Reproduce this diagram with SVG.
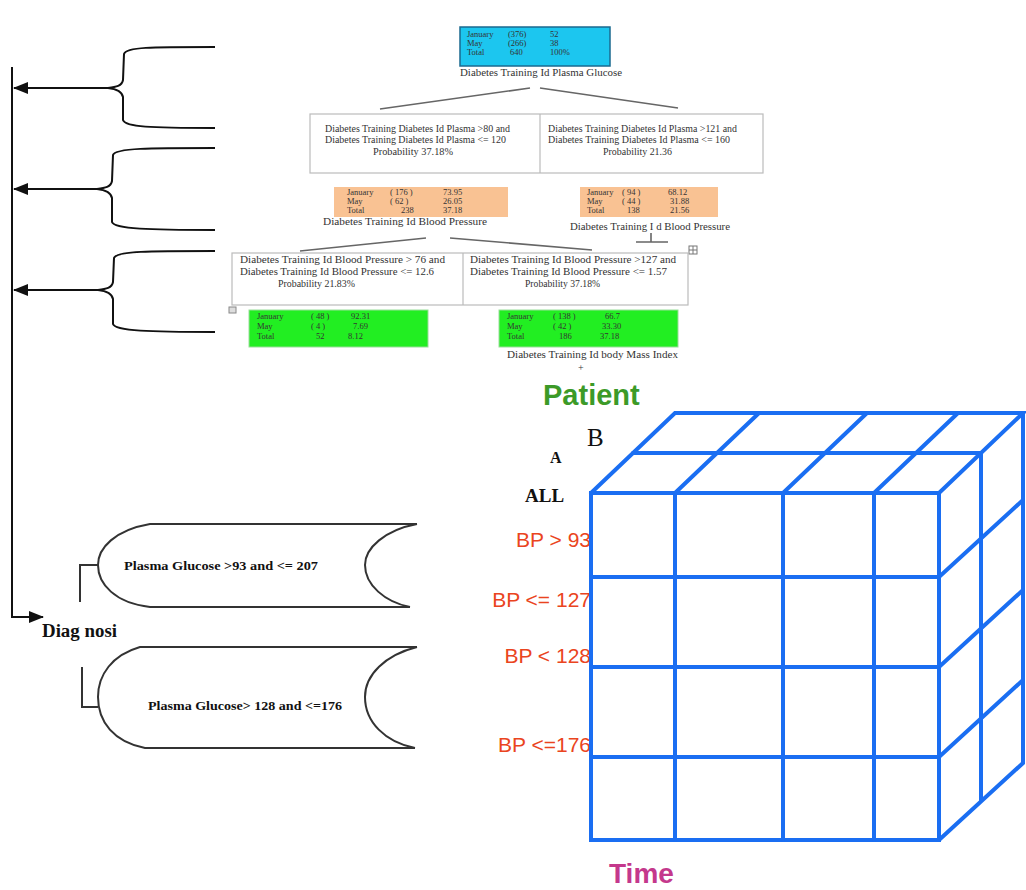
<svg xmlns="http://www.w3.org/2000/svg" width="1026" height="890" viewBox="0 0 1026 890">
  <style>
    .t { font-family: "Liberation Serif", serif; font-size: 8.5px; fill: #333; }
    .l { font-family: "Liberation Serif", serif; font-size: 10px; fill: #333; }
    .tc { font-family: "Liberation Serif", serif; font-size: 10px; fill: #333; text-anchor: middle; }
    .bx { fill: #fff; stroke: #bbb; stroke-width: 1.2; }
    .tree { fill: none; stroke: #666; stroke-width: 1.6; }
    .brace { fill: none; stroke: #111; stroke-width: 2; }
    .cap { fill: none; stroke: #333; stroke-width: 2; }
    .cube { fill: none; stroke: #1a6ef2; stroke-width: 4; stroke-linecap: round; }
    .bp { font-family: "Liberation Sans", Arial, sans-serif; font-size: 21px; fill: #ea4420; text-anchor: end; }
    .pg { font-family: "Liberation Serif", serif; font-size: 12px; font-weight: bold; fill: #111; }
  </style>
  <defs>
    <marker id="arr" markerUnits="userSpaceOnUse" markerWidth="16" markerHeight="12" refX="14" refY="6" orient="auto">
      <path d="M0,0 L15,6 L0,12 Z" fill="#111"/>
    </marker>
  </defs>
  <rect width="1026" height="890" fill="#fff"/>

  <!-- decision tree -->
  <g id="root-node">
    <rect x="460" y="27" width="150" height="39" fill="#1cc6ef" stroke="#1a6a90" stroke-width="1.5"/>
    <text class="t" x="467" y="37">January</text><text class="t" x="508" y="37">(376)</text><text class="t" x="550" y="37">52</text>
    <text class="t" x="467" y="46">May</text><text class="t" x="508" y="46">(266)</text><text class="t" x="550" y="46">38</text>
    <text class="t" x="467" y="55">Total</text><text class="t" x="510" y="55">640</text><text class="t" x="550" y="55">100%</text>
    <text class="l" x="460" y="76" textLength="162" lengthAdjust="spacingAndGlyphs">Diabetes Training Id Plasma Glucose</text>
  </g>

  <g id="split-plasma">
    <rect class="bx" x="310" y="114" width="453" height="59"/>
    <line x1="540" y1="114" x2="540" y2="173" stroke="#bbb" stroke-width="1.2"/>
    <text class="l" x="325" y="132" textLength="185" lengthAdjust="spacingAndGlyphs">Diabetes Training Diabetes Id Plasma &gt;80 and</text>
    <text class="l" x="325" y="143" textLength="181" lengthAdjust="spacingAndGlyphs">Diabetes Training Diabetes Id Plasma  &lt;= 120</text>
    <text class="l" x="373" y="155" textLength="80" lengthAdjust="spacingAndGlyphs">Probability 37.18%</text>
    <text class="l" x="548" y="132" textLength="189" lengthAdjust="spacingAndGlyphs">Diabetes Training Diabetes Id Plasma &gt;121 and</text>
    <text class="l" x="548" y="143" textLength="182" lengthAdjust="spacingAndGlyphs">Diabetes Training Diabetes Id Plasma  &lt;= 160</text>
    <text class="l" x="603" y="155" textLength="69" lengthAdjust="spacingAndGlyphs">Probability 21.36</text>
  </g>

  <g id="bp-left">
    <rect x="334" y="187" width="174" height="30" fill="#f9c293"/>
    <text class="t" x="347" y="195">January</text><text class="t" x="390" y="195">( 176 )</text><text class="t" x="443" y="195">73.95</text>
    <text class="t" x="347" y="204">May</text><text class="t" x="390" y="204">(  62  )</text><text class="t" x="443" y="204">26.05</text>
    <text class="t" x="347" y="213">Total</text><text class="t" x="401" y="213">238</text><text class="t" x="443" y="213">37.18</text>
    <text class="l" x="323" y="225" textLength="164" lengthAdjust="spacingAndGlyphs">Diabetes Training Id Blood Pressure</text>
  </g>

  <g id="bp-right">
    <rect x="580" y="187" width="138" height="30" fill="#f9c293"/>
    <text class="t" x="587" y="195">January</text><text class="t" x="622" y="195">( 94 )</text><text class="t" x="668" y="195">68.12</text>
    <text class="t" x="587" y="204">May</text><text class="t" x="622" y="204">( 44 )</text><text class="t" x="670" y="204">31.88</text>
    <text class="t" x="587" y="213">Total</text><text class="t" x="627" y="213">138</text><text class="t" x="670" y="213">21.56</text>
    <text class="l" x="570" y="230" textLength="160" lengthAdjust="spacingAndGlyphs">Diabetes Training I d Blood Pressure</text>
    <rect x="689" y="246" width="8" height="8" fill="#fff" stroke="#777" stroke-width="1"/>
    <path d="M693,246 V254 M689,250 H697" stroke="#777" stroke-width="1"/>
  </g>

  <g id="split-bp">
    <rect class="bx" x="232" y="253" width="456" height="52"/>
    <line x1="463" y1="253" x2="463" y2="305" stroke="#bbb" stroke-width="1.2"/>
    <text class="l" x="240" y="263" textLength="205" lengthAdjust="spacingAndGlyphs">Diabetes Training Id Blood Pressure &gt; 76  and</text>
    <text class="l" x="240" y="275" textLength="194" lengthAdjust="spacingAndGlyphs">Diabetes Training Id Blood Pressure  &lt;= 12.6</text>
    <text class="l" x="278" y="287" textLength="77" lengthAdjust="spacingAndGlyphs">Probability 21.83%</text>
    <text class="l" x="470" y="263" textLength="206" lengthAdjust="spacingAndGlyphs">Diabetes Training Id Blood Pressure &gt;127 and</text>
    <text class="l" x="470" y="275" textLength="197" lengthAdjust="spacingAndGlyphs">Diabetes Training Id Blood Pressure &lt;= 1.57</text>
    <text class="l" x="525" y="287" textLength="75" lengthAdjust="spacingAndGlyphs">Probability 37.18%</text>
    <rect x="229" y="307" width="7" height="6" fill="#ddd" stroke="#888" stroke-width="1"/>
  </g>

  <g id="leaf-left">
    <rect x="249" y="310" width="179" height="37" fill="#22ee22" stroke="#9d9" stroke-width="1"/>
    <text class="t" x="257" y="319">January</text><text class="t" x="311" y="319">( 48 )</text><text class="t" x="351" y="319">92.31</text>
    <text class="t" x="257" y="329">May</text><text class="t" x="311" y="329">(   4   )</text><text class="t" x="353" y="329">7.69</text>
    <text class="t" x="257" y="339">Total</text><text class="t" x="316" y="339">52</text><text class="t" x="348" y="339">8.12</text>
  </g>

  <g id="leaf-right">
    <rect x="499" y="310" width="179" height="37" fill="#22ee22" stroke="#9d9" stroke-width="1"/>
    <text class="t" x="507" y="319">January</text><text class="t" x="553" y="319">( 138 )</text><text class="t" x="605" y="319">66.7</text>
    <text class="t" x="507" y="329">May</text><text class="t" x="553" y="329">(  42  )</text><text class="t" x="602" y="329">33.30</text>
    <text class="t" x="507" y="339">Total</text><text class="t" x="559" y="339">186</text><text class="t" x="600" y="339">37.18</text>
    <text class="l" x="507" y="358" textLength="171" lengthAdjust="spacingAndGlyphs">Diabetes Training Id  body Mass Index</text>
    <text class="l" x="578" y="371">+</text>
  </g>

  <!-- tree branches, braces and arrows -->
  <g id="connectors">
    <path class="tree" d="M530,88 L380,109 M540,88 L678,108"/>
    <path class="tree" d="M426,238 L300,251 M450,238 L592,250"/>
    <path class="tree" d="M651,233 V242 M636,242 H668"/>

    <path class="brace" d="M12,67 V617 H43" marker-end="url(#arr)"/>

    <path class="brace" d="M215,47 C150,47 126,47 124,54 L123,80 C122,86 116,87 108,88 C116,89 122,91 123,97 L123,120 C125,127 150,128 215,128"/>
    <line class="brace" x1="110" y1="88" x2="14" y2="88" marker-end="url(#arr)"/>

    <path class="brace" d="M215,148 C150,148 115,148 113,155 L112,181 C111,187 105,188 97,189 C105,190 111,192 112,198 L112,222 C114,229 150,230 215,230"/>
    <line class="brace" x1="100" y1="189" x2="14" y2="189" marker-end="url(#arr)"/>

    <path class="brace" d="M215,251 C150,251 116,251 114,258 L113,282 C112,288 106,289 98,290 C106,291 112,293 113,299 L113,324 C115,331 150,332 215,332"/>
    <line class="brace" x1="100" y1="290" x2="14" y2="290" marker-end="url(#arr)"/>

    <path class="cap" d="M80,602 V565 H98"/>
    <path class="cap" d="M82,667 V707 H98"/>
  </g>

  <!-- plasma glucose ranges -->
  <g id="range-1">
    <path class="cap" d="M417,524 H150 C115,530 98,548 98,565 C98,584 115,603 150,607 H410"/>
    <path class="cap" d="M417,524 C385,530 365,548 365,565 C365,585 385,602 410,607"/>
    <text class="pg" x="124" y="570" textLength="194" lengthAdjust="spacingAndGlyphs">Plasma Glucose &gt;93 and &lt;= 207</text>
  </g>
  <g id="range-2">
    <path class="cap" d="M417,647 H140 C112,655 98,675 98,697 C98,722 114,742 145,748 H415"/>
    <path class="cap" d="M417,647 C385,655 365,675 365,697 C365,722 385,742 415,748"/>
    <text class="pg" x="148" y="710" textLength="194" lengthAdjust="spacingAndGlyphs">Plasma Glucose&gt; 128 and &lt;=176</text>
  </g>

  <g id="diagnosi">
    <text x="42" y="637" font-family="Liberation Serif, serif" font-size="18" font-weight="bold" fill="#111" textLength="75" lengthAdjust="spacingAndGlyphs">Diag nosi</text>
  </g>

  <g id="bp-labels">
    <text class="bp" x="591" y="547">BP &gt; 93</text>
    <text class="bp" x="591" y="607">BP &lt;= 127</text>
    <text class="bp" x="591" y="663">BP &lt; 128</text>
    <text class="bp" x="591" y="752">BP &lt;=176</text>
  </g>

  <!-- data cube -->
  <g id="cube">
    <rect class="cube" x="591" y="493" width="348" height="347"/>
    <path class="cube" d="M591,577 H939 M591,667 H939 M591,757 H939"/>
    <path class="cube" d="M675,493 V840 M783,493 V840 M874,493 V840"/>
    <path class="cube" d="M591,493 L675,413 H1023 L939,493"/>
    <path class="cube" d="M633,453 H981"/>
    <path class="cube" d="M675,493 L759,413 M783,493 L867,413 M874,493 L958,413"/>
    <path class="cube" d="M1023,413 V763 L939,840"/>
    <path class="cube" d="M981,453 V800"/>
    <path class="cube" d="M939,577 L1023,500 M939,667 L1023,590 M939,757 L1023,680"/>
  </g>

  <g id="axis-labels">
    <text x="543" y="405" font-family="Liberation Sans, Arial, sans-serif" font-size="29" font-weight="bold" fill="#3c9a28">Patient</text>
    <text x="587" y="446" font-family="Liberation Serif, serif" font-size="25" fill="#111">B</text>
    <text x="550" y="463" font-family="Liberation Serif, serif" font-size="16" font-weight="bold" fill="#111">A</text>
    <text x="525" y="502" font-family="Liberation Serif, serif" font-size="19" font-weight="bold" fill="#111">ALL</text>
    <text x="609" y="883" font-family="Liberation Sans, Arial, sans-serif" font-size="28" font-weight="bold" fill="#c4388c">Time</text>
  </g>
</svg>
